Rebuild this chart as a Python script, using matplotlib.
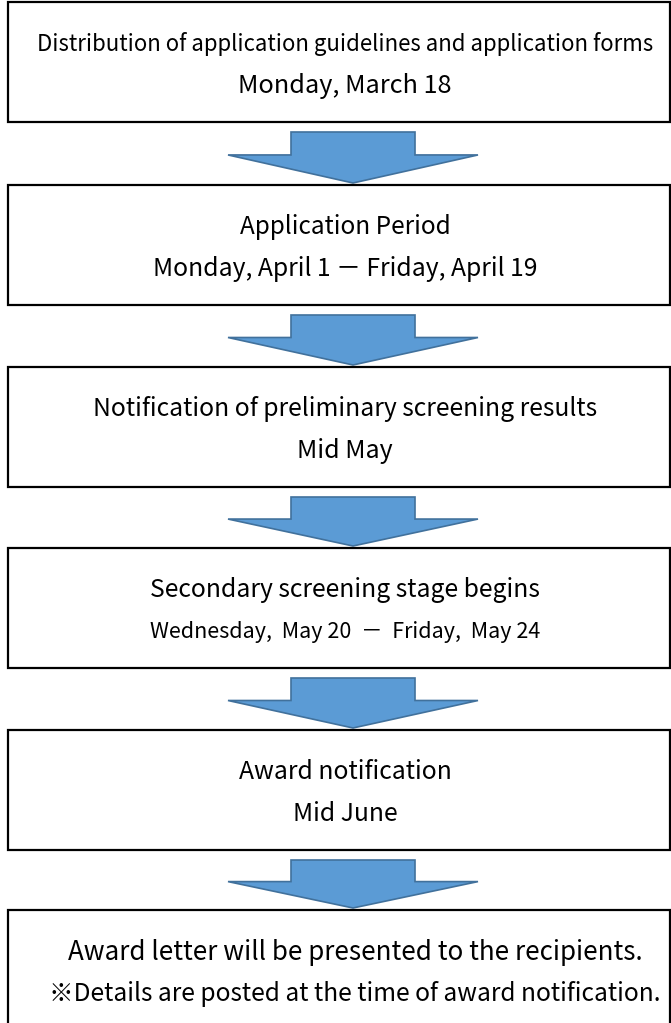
import matplotlib.pyplot as plt
from matplotlib.patches import Rectangle, Polygon

plt.rcParams['font.family'] = ['Noto Sans CJK JP', 'DejaVu Sans']

titles = [
    'Distribution of application guidelines and application forms',
    'Application Period',
    'Notification of preliminary screening results',
    'Secondary screening stage begins',
    'Award notification',
    'Award letter will be presented to the recipients.',
]
dates = [
    'Monday, March 18',
    'Monday, April 1 － Friday, April 19',
    'Mid May',
    'Wednesday,  May 20  －  Friday,  May 24',
    'Mid June',
    '※Details are posted at the time of award notification.',
]

# layout in pixel units
W, H = 671, 1023
box_top = [2, 185, 367, 548, 730, 910]
box_h = 120
box_x0, box_x1 = 8, 670
fill = '#5B9BD5'
edge = '#41719C'

title_fs = [16, 17.5, 17.8, 17.8, 17.8, 18.7]
date_fs = [18.2, 17.8, 18, 15.5, 17.8, 17.7]

fig = plt.figure(figsize=(W / 100, H / 100), dpi=100)
ax = fig.add_axes([0, 0, 1, 1])
ax.set_xlim(0, W)
ax.set_ylim(H, 0)
ax.axis('off')

for i, (t, d) in enumerate(zip(titles, dates)):
    y0 = box_top[i]
    h = box_h if i < 5 else H - y0 + 5
    cx_text = 345 if i < 5 else 355
    ax.add_patch(Rectangle((box_x0, y0), box_x1 - box_x0, h,
                           facecolor='white', edgecolor='black', lw=1.6))
    ax.text(cx_text, y0 + 42, t, ha='center', va='center', fontsize=title_fs[i])
    ax.text(cx_text, y0 + 84, d, ha='center', va='center', fontsize=date_fs[i])

    # arrow to next box
    if i < 5:
        top = y0 + box_h + 10
        bot = box_top[i + 1] - 2
        mid = top + (bot - top) * 0.45
        cx = 353
        pts = [(cx - 62, top), (cx + 62, top), (cx + 62, mid), (cx + 125, mid),
               (cx, bot), (cx - 125, mid), (cx - 62, mid)]
        ax.add_patch(Polygon(pts, closed=True, facecolor=fill,
                             edgecolor=edge, lw=1.2))

fig.savefig('out.png', dpi=100)
